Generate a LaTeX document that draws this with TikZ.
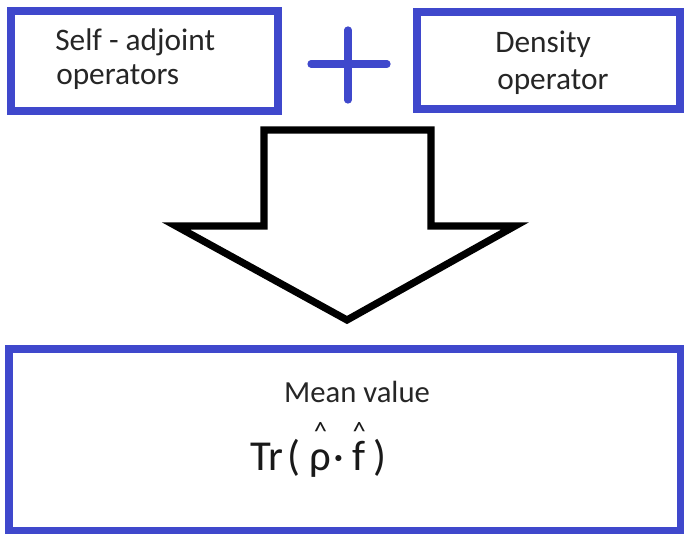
\documentclass[tikz,border=0pt]{standalone}
\usepackage{fontspec}
\setmainfont{Carlito}
\definecolor{boxblue}{HTML}{3F48CC}
\newcommand\hatted[1]{\ooalign{#1\cr\hidewidth\raisebox{22.5pt}{\fontsize{20}{20}\selectfont\char"5E}\hidewidth\cr}}
\begin{document}
\begin{tikzpicture}[x=0.75pt,y=-0.75pt,
  bluebox/.style={draw=boxblue,line width=6pt,fill=white,inner sep=0pt,outer sep=0pt},
  toptext/.style={font=\fontsize{23.5}{28}\selectfont,anchor=base west,inner sep=0pt,text=black!85},
  plusbar/.style={draw=boxblue,line width=5.4pt,line cap=round},
  bigarrow/.style={draw=black,line width=5.4pt,line join=miter,fill=white}]
\useasboundingbox (0,0) rectangle (684,534);
\fill[white] (0,0) rectangle (684,534);
% top boxes
\node[bluebox,minimum width=200.25pt,minimum height=75pt] (b1) at (144,61) {};
\node[bluebox,minimum width=197.25pt,minimum height=72.75pt] (b2) at (548.5,60.5) {};
\node[toptext] (t1a) at (55,51) {Self - adjoint};
\node[toptext] (t1b) at (56,85) {operators};
\node[toptext] (t2a) at (495,53) {Density};
\node[toptext] (t2b) at (497,90) {operator};
% plus sign
\coordinate (pl) at (311,64);
\coordinate (pr) at (387,64);
\coordinate (pt) at (348,30);
\coordinate (pb) at (348,100);
\draw[plusbar] (pl) -- (pr);
\draw[plusbar] (pt) -- (pb);
% big arrow
\coordinate (a1) at (264,130);
\coordinate (a2) at (431,130);
\coordinate (a3) at (431,226);
\coordinate (a4) at (515,226);
\coordinate (tip) at (347,320);
\coordinate (a6) at (176,226);
\coordinate (a7) at (264,226);
\draw[bigarrow] (a1) -- (a2) -- (a3) -- (a4) -- (tip) -- (a6) -- (a7) -- cycle;
% bottom box
\node[bluebox,minimum width=504pt,minimum height=136.5pt] (b3) at (344.5,440) {};
\node[font=\fontsize{23}{27}\selectfont,anchor=base,inner sep=0pt,text=black!85] (mv) at (357,402) {Mean value};
\node[font=\fontsize{32}{38}\selectfont,anchor=base west,inner sep=0pt,text=black!90] (tr) at (250,470) {Tr\kern3pt(\kern7pt\hatted{ρ}\kern2pt·\kern6pt\hatted{f}\kern6pt)};
\end{tikzpicture}
\end{document}
